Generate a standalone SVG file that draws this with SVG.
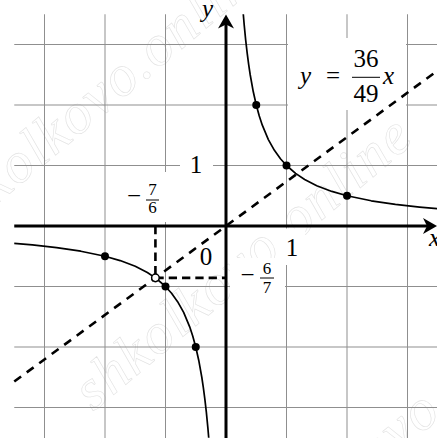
<svg xmlns="http://www.w3.org/2000/svg" width="437" height="438" viewBox="0 0 437 438">
<style>
.grid line{stroke:#8f8f8f;stroke-width:1}
.box{fill:#fff}
.axis{stroke:#000;stroke-width:3;fill:none}
.arrow{fill:#000}
.curve{stroke:#000;stroke-width:1.7;fill:none;stroke-linejoin:round}
.dash{stroke:#000;stroke-width:2.6;fill:none;stroke-dasharray:8.5 7}
.proj{stroke:#000;stroke-width:2.6;fill:none;stroke-dasharray:8.3 5}
.pt{fill:#000}
.hollow{fill:#fff;stroke:#000;stroke-width:1.5}
.it{font-style:italic}
.big{font-size:25px}
.small{font-size:17px}
.bar{stroke:#000;stroke-width:1}
.wm text{font-size:58px;font-style:italic;fill:none;stroke:#e2e2e2;stroke-width:0.6}
</style>
<rect x="0" y="0" width="437" height="438" fill="#fff"/>
<g id="watermark" class="wm" font-family="Liberation Serif, serif">
<text transform="translate(114,106) rotate(-40)" text-anchor="middle" textLength="420">shkolkovo.online</text>
<text transform="translate(254,277) rotate(-40)" text-anchor="middle" textLength="420">shkolkovo.online</text>
<text transform="translate(414,440) rotate(-40)" text-anchor="middle" textLength="420">shkolkovo.online</text>
</g>
<g id="grid" class="grid">
<line x1="44.5" y1="14.25" x2="44.5" y2="438"/>
<line x1="105" y1="14.25" x2="105" y2="438"/>
<line x1="165.5" y1="14.25" x2="165.5" y2="438"/>
<line x1="286.5" y1="14.25" x2="286.5" y2="438"/>
<line x1="347" y1="14.25" x2="347" y2="438"/>
<line x1="407.5" y1="14.25" x2="407.5" y2="438"/>
<line x1="14.25" y1="44.5" x2="437" y2="44.5"/>
<line x1="14.25" y1="105" x2="437" y2="105"/>
<line x1="14.25" y1="165.5" x2="437" y2="165.5"/>
<line x1="14.25" y1="286.5" x2="437" y2="286.5"/>
<line x1="14.25" y1="347" x2="437" y2="347"/>
<line x1="14.25" y1="407.5" x2="437" y2="407.5"/>
</g>
<g id="label-boxes">
<rect class="box" x="288" y="38" width="118" height="72"/>
<rect class="box" x="180" y="150" width="33" height="32"/>
<rect class="box" x="120" y="172" width="50" height="50"/>
<rect class="box" x="279" y="228.5" width="26" height="36.5"/>
<rect class="box" x="230" y="258" width="55" height="40"/>
</g>
<g id="axes" font-family="Liberation Serif, serif" fill="#000">
<line class="axis" x1="14.25" y1="226" x2="430" y2="226"/>
<path class="arrow" d="M437,226 L423,218 L427,226 L423,234 Z"/>
<line class="axis" x1="226" y1="438" x2="226" y2="22"/>
<path class="arrow" d="M226,14.5 L218,28.5 L226,24.5 L234,28.5 Z"/>
<text class="big it" x="207.5" y="17" text-anchor="middle">y</text>
<text class="big it" x="429" y="246">x</text>
<text class="big" x="196" y="173" text-anchor="middle">1</text>
<text class="big" x="292" y="256" text-anchor="middle">1</text>
<text class="big" x="206" y="265" text-anchor="middle">0</text>
</g>
<g id="connectors">
<polyline class="curve" points="243.29,14.25 244.15,24.33 245.66,39.85 247.18,53.14 248.69,64.67 250.2,74.75 253.23,91.56 256.25,105 259.28,116 262.3,125.17 268.35,139.57 274.4,150.37 280.45,158.78 286.5,165.5 295.58,173.39 304.65,179.46 316.75,185.67 331.88,191.43 347,195.75 371.2,200.79 395.4,204.39 419.6,207.09 437.75,208.71"/>
<polyline class="curve" points="208.71,437.75 207.85,427.67 206.34,412.15 204.82,398.86 203.31,387.33 201.8,377.25 198.77,360.44 195.75,347 192.72,336 189.7,326.83 183.65,312.43 177.6,301.63 171.55,293.22 165.5,286.5 156.42,278.61 147.35,272.54 135.25,266.33 120.12,260.57 105,256.25 80.8,251.21 56.6,247.61 32.4,244.91 14.25,243.29"/>
<line class="dash" x1="14.25" y1="381.57" x2="437.75" y2="70.43"/>
<line class="proj" x1="155.42" y1="226" x2="155.42" y2="277.86"/>
<line class="proj" x1="155.42" y1="277.86" x2="226" y2="277.86"/>
</g>
<g id="points">
<circle class="pt" cx="256.25" cy="105" r="4"/>
<circle class="pt" cx="286.5" cy="165.5" r="4"/>
<circle class="pt" cx="347" cy="195.75" r="4"/>
<circle class="pt" cx="105" cy="256.25" r="4"/>
<circle class="pt" cx="165.5" cy="286.5" r="4"/>
<circle class="pt" cx="195.75" cy="347" r="4"/>
<circle class="hollow" cx="155.42" cy="277.86" r="3.8"/>
</g>
<g id="label-line" font-family="Liberation Serif, serif" fill="#000">
<text class="big it" x="300" y="84">y</text>
<text class="big" x="333" y="84" text-anchor="middle">=</text>
<text class="big" x="366" y="67" text-anchor="middle">36</text>
<line class="bar" x1="352" y1="77.3" x2="380" y2="77.3"/>
<text class="big" x="366" y="101.5" text-anchor="middle">49</text>
<text class="big it" x="383" y="84">x</text>
</g>
<g id="label-x" font-family="Liberation Serif, serif" fill="#000">
<text class="big" x="134" y="204" text-anchor="middle">−</text>
<text class="small" x="152.5" y="195" text-anchor="middle">7</text>
<line class="bar" x1="146" y1="200" x2="159" y2="200"/>
<text class="small" x="152.5" y="213" text-anchor="middle">6</text>
</g>
<g id="label-y" font-family="Liberation Serif, serif" fill="#000">
<text class="big" x="247.5" y="283" text-anchor="middle">−</text>
<text class="small" x="267" y="274" text-anchor="middle">6</text>
<line class="bar" x1="260" y1="278" x2="274" y2="278"/>
<text class="small" x="267" y="293" text-anchor="middle">7</text>
</g>
</svg>
